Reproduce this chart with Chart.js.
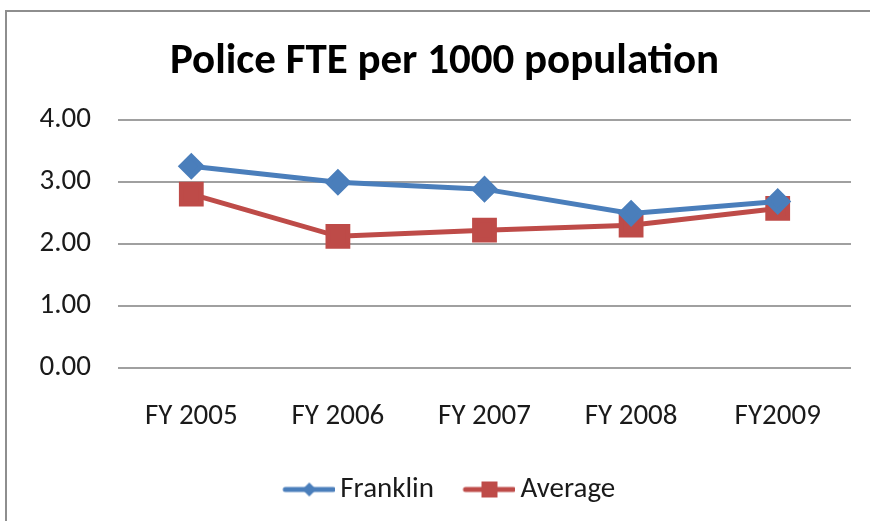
<!DOCTYPE html>
<html>
<head>
<meta charset="utf-8">
<script src="https://cdn.jsdelivr.net/npm/chart.js@4"></script>
<style>
  html, body { margin: 0; padding: 0; background: #fff; overflow: hidden; }
  #wrap { position: relative; width: 870px; height: 521px; }
  #frame { position: absolute; left: 5px; top: 10px; width: 900px; height: 600px; border: 2px solid #8e8e8e; box-sizing: border-box; }
  #myChart { position: absolute; left: 0; top: 0; }
</style>
</head>
<body>
<div id="wrap">
  <div id="frame"></div>
  <canvas id="myChart" width="870" height="521"></canvas>
</div>
<script>
const years = ['FY 2005', 'FY 2006', 'FY 2007', 'FY 2008', 'FY2009'];
const franklin = [3.25, 2.99, 2.88, 2.49, 2.68];
const average = [2.80, 2.12, 2.22, 2.30, 2.57];
const yTicks = [0, 1, 2, 3, 4];

const blue = '#4a7ebb';
const red = '#be4b48';
const font = "Carlito, Calibri, Lato, sans-serif";

// legend swatch: line with marker in the middle (shifted right inside the image)
function swatch(color, shape) {
  const c = document.createElement('canvas');
  c.width = 71; c.height = 20;
  const g = c.getContext('2d');
  const x0 = 19;
  g.strokeStyle = color; g.lineWidth = 5; g.lineCap = 'round';
  g.beginPath(); g.moveTo(x0 + 2, 10); g.lineTo(x0 + 50, 10); g.stroke();
  g.fillStyle = color;
  if (shape === 'diamond') {
    g.beginPath(); g.moveTo(x0 + 26, 3); g.lineTo(x0 + 33, 10); g.lineTo(x0 + 26, 17); g.lineTo(x0 + 19, 10); g.closePath(); g.fill();
  } else {
    g.fillRect(x0 + 18, 2, 16, 16);
  }
  return c;
}

const ctx = document.getElementById('myChart');
new Chart(ctx, {
  type: 'line',
  data: {
    labels: years,
    datasets: [{
      label: 'Franklin',
      data: franklin,
      borderColor: blue,
      backgroundColor: blue,
      borderWidth: 5,
      pointStyle: 'rectRot',
      pointRadius: 10,
      pointHoverRadius: 10,
      tension: 0
    }, {
      label: 'Average',
      data: average,
      borderColor: red,
      backgroundColor: red,
      borderWidth: 5,
      pointStyle: 'rect',
      pointRadius: 14,
      pointHoverRadius: 14,
      tension: 0
    }]
  },
  options: {
    responsive: false,
    animation: false,
    layout: { padding: { left: 37, right: 18, top: 10, bottom: 7 } },
    plugins: {
      title: {
        display: true,
        text: 'Police FTE per 1000 population',
        color: '#000',
        font: { family: font, size: 43, weight: 'bold' },
        padding: { top: 26, bottom: 32 }
      },
      legend: {
        position: 'bottom',
        labels: {
          color: '#1a1a1a',
          font: { family: font, size: 29 },
          usePointStyle: true,
          pointStyleWidth: 52,
          boxHeight: 20,
          padding: 20,
          generateLabels: () => [
            { text: 'Franklin', pointStyle: swatch(blue, 'diamond'), fontColor: '#1a1a1a', datasetIndex: 0, lineWidth: 0, strokeStyle: 'transparent' },
            { text: 'Average', pointStyle: swatch(red, 'square'), fontColor: '#1a1a1a', datasetIndex: 1, lineWidth: 0, strokeStyle: 'transparent' }
          ]
        }
      },
      tooltip: { enabled: false }
    },
    scales: {
      x: {
        offset: true,
        grid: { display: false, drawTicks: false },
        border: { display: false },
        afterFit: (s) => { s.height = 87; },
        ticks: { color: '#1a1a1a', font: { family: font, size: 29 }, padding: 31, maxRotation: 0 }
      },
      y: {
        min: 0,
        max: 4,
        afterBuildTicks: (s) => { s.ticks = yTicks.map(v => ({ value: v })); },
        afterFit: (s) => { s.width = 81; },
        grid: { color: '#a0a0a0', lineWidth: 2, drawTicks: false },
        border: { display: false },
        ticks: { color: '#1a1a1a', font: { family: font, size: 29 }, padding: 27, callback: (v) => v.toFixed(2) }
      }
    }
  }
});
</script>
</body>
</html>
